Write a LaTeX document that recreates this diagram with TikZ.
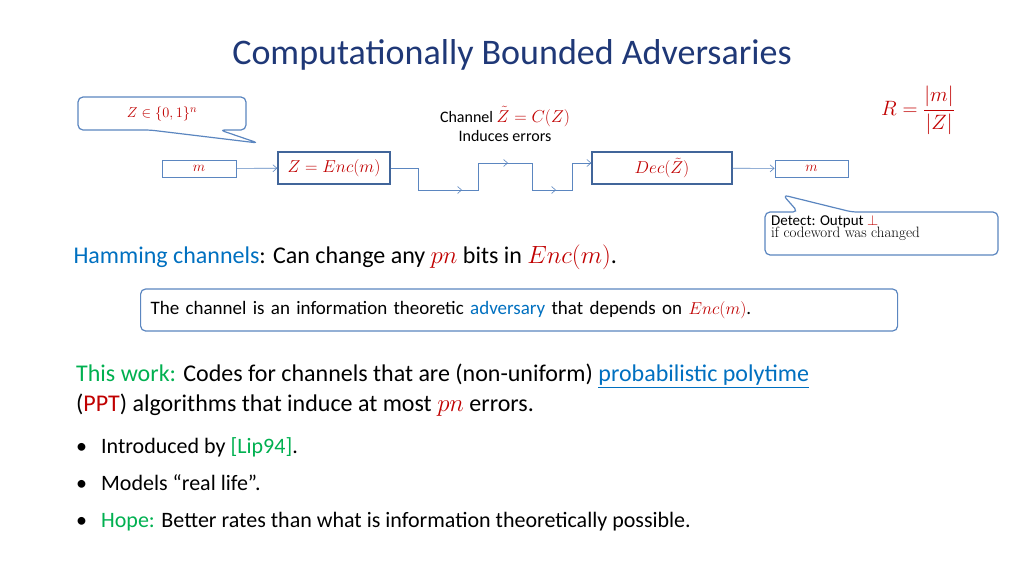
\documentclass[tikz,border=0pt]{standalone}
\usepackage{fontspec}
\setmainfont{Carlito}
\usetikzlibrary{arrows.meta}
\definecolor{rd}{HTML}{C00000}
\definecolor{tb}{HTML}{1F3877}
\definecolor{bl}{HTML}{0070C0}
\definecolor{gr}{HTML}{00B050}
\definecolor{bx}{HTML}{41659A}
\definecolor{ln}{HTML}{5B86C0}
\newcommand{\redm}[1]{\textcolor{rd}{$#1$}}
\begin{document}
\begin{tikzpicture}[x=1pt,y=-1pt,
  bigbox/.style={draw=bx,line width=1.3pt,minimum height=32pt,inner sep=0pt},
  smallbox/.style={draw=ln,line width=1pt,minimum height=17pt,inner sep=0pt},
  wire/.style={draw=ln,line width=0.6pt},
  arr/.style={-{Straight Barb[length=4pt,width=7pt]}},
  call/.style={draw=ln,line width=1.2pt,fill=white,rounded corners=5pt}]
\useasboundingbox (0,0) rectangle (1024,576);
\node[text=tb,font=\fontsize{36}{40}\selectfont] (title) at (512,55) {Computationally Bounded Adversaries};
\node[font=\fontsize{22}{26}\selectfont,text=rd] (R) at (918,110) {$R=\displaystyle\frac{|m|}{|Z|}$};
% callout Z
\draw[call] (78,97) -- (246,97) -- (246,130) -- (220,130) -- (258,143) -- (150,130) -- (78,130) -- cycle;
\node (zt) at (162,114) {\fontsize{15}{18}\selectfont\redm{Z\in\{0,1\}^n}};
% channel text
\node[align=center,font=\fontsize{16}{19}\selectfont] (ch) at (505,124) {Channel \redm{\tilde Z=C(Z)}\\Induces errors};
% boxes
\node[smallbox,minimum width=74pt] (m1) at (199,168.5) {\fontsize{15}{18}\selectfont\redm{m}};
\node[bigbox,minimum width=112pt] (enc) at (334,168) {\fontsize{16}{19}\selectfont\redm{Z=Enc(m)}};
\node[bigbox,minimum width=140pt] (dec) at (662,168) {\fontsize{16}{19}\selectfont\redm{Dec(\tilde Z)}};
\node[smallbox,minimum width=73pt] (m2) at (811.5,168.5) {\fontsize{15}{18}\selectfont\redm{m}};
\draw[wire,arr] (m1) -- (enc);
\draw[wire,arr] (dec) -- (m2);
\draw[wire] (enc.east) -- (418,168) -- (418,190) -- (478,190) -- (478,163) -- (532,163) -- (532,190) -- (572,190) -- (572,163) -- (dec.west |- 0,163);
\draw[wire,arr] (418,190) -- (462,190);
\draw[wire,arr] (478,163) -- (508,163);
\draw[wire,arr] (532,190) -- (556,190);
\draw[wire,arr] (572,163) -- (dec.west |- 0,163);
% detect callout
\draw[call] (765,212) -- (798,212) -- (783,195) -- (852,212) -- (998,212) -- (998,255) -- (765,255) -- cycle;
\node[anchor=north west,align=left,inner sep=0pt] (det) at (771,215) {{\fontsize{15}{18}\selectfont Detect: Output \redm{\perp}}\\[-2pt]{\fontfamily{lmr}\fontsize{15}{17}\selectfont if codeword was changed}};
% hamming
\node[anchor=west,font=\fontsize{24}{28}\selectfont] (ham) at (70,257) {\textcolor{bl}{Hamming channels}: Can change any \redm{pn} bits in \redm{Enc(m)}.};
\node[call,anchor=west,minimum width=757pt,minimum height=42pt,inner sep=10pt,font=\fontsize{19}{22}\selectfont,text width=737pt] (inf) at (140,310) {The channel is an information theoretic \textcolor{bl}{adversary} that depends on \redm{Enc(m)}.};
% this work
\node[anchor=north west,align=left,inner sep=0pt,font=\fontsize{24}{30}\selectfont] (tw) at (76,364) {\textcolor{gr}{This work:} Codes for channels that are (non-uniform) \textcolor{bl}{\underline{probabilistic polytime}}\\(\textcolor{rd}{PPT}) algorithms that induce at most \redm{pn} errors.};
\node[anchor=north west,align=left,inner sep=0pt,font=\fontsize{22}{37}\selectfont] (bul) at (76,437) {\textbullet\hspace{14pt}Introduced by \textcolor{gr}{[Lip94]}.\\\textbullet\hspace{14pt}Models “real life”.\\\textbullet\hspace{14pt}\textcolor{gr}{Hope:} Better rates than what is information theoretically possible.};
\end{tikzpicture}
\end{document}
